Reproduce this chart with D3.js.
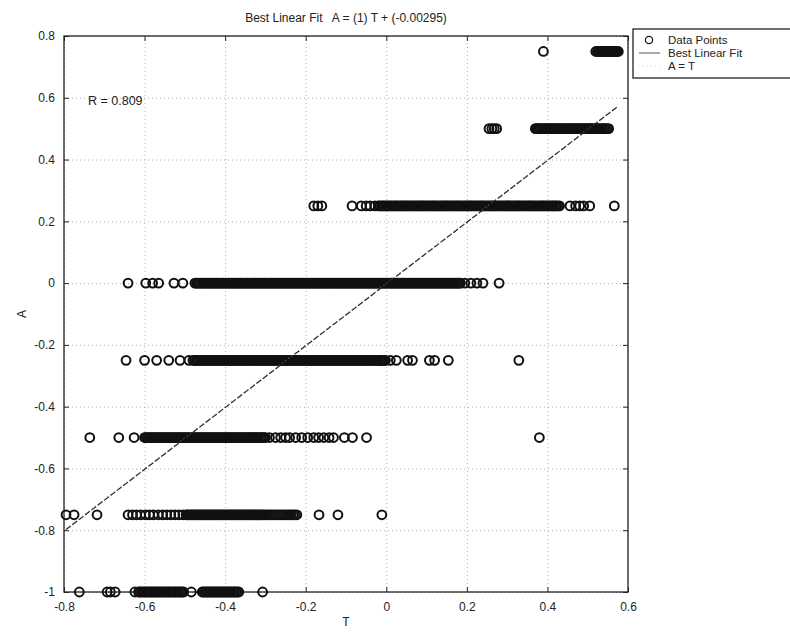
<!DOCTYPE html>
<html>
<head>
<meta charset="utf-8">
<script src="https://cdn.jsdelivr.net/npm/d3@7"></script>
<style>
  body { margin: 0; background: #fff; }
  text { font-family: "Liberation Sans", Arial, sans-serif; fill: #222; white-space: pre; }
</style>
</head>
<body>
<div></div>
<script>
// rows of A (target levels) and the T values found on each row
var aLevels = [0.75, 0.5, 0.25, 0, -0.25, -0.5, -0.75, -1];

var tRow075 = [0.39, 0.52, 0.527, 0.534, 0.54, 0.546, 0.552, 0.558, 0.564, 0.57, 0.576,
    0.524, 0.531, 0.537, 0.543, 0.549, 0.555, 0.561, 0.567, 0.573];

var tRow050 = [0.255, 0.262, 0.268, 0.274,
    0.37, 0.376, 0.382, 0.39, 0.397, 0.404, 0.41, 0.418, 0.425, 0.432, 0.44, 0.447, 0.455,
    0.462, 0.47, 0.477, 0.485, 0.492, 0.5, 0.507, 0.514, 0.522, 0.53, 0.537, 0.544, 0.552,
    0.373, 0.379, 0.386, 0.394, 0.401, 0.407, 0.414, 0.421, 0.428, 0.436, 0.444, 0.451, 0.459,
    0.466, 0.474, 0.481, 0.489, 0.496, 0.504, 0.511, 0.518, 0.526, 0.534, 0.541, 0.548];

var tRow025 = [-0.18, -0.17, -0.16, -0.085, -0.062, -0.05, -0.04, -0.028,
    -0.02, -0.012, -0.005, 0.003, 0.01, 0.018, 0.025, 0.033, 0.04, 0.047, 0.055, 0.062, 0.07,
    0.078, 0.085, 0.092, 0.1, 0.108, 0.115, 0.122, 0.13, 0.138, 0.145, 0.152, 0.16, 0.168,
    0.175, 0.182, 0.19, 0.198, 0.205, 0.212, 0.22, 0.228, 0.235, 0.242, 0.25, 0.258, 0.265,
    0.272, 0.28, 0.288, 0.295, 0.302, 0.31, 0.318, 0.325, 0.332, 0.34, 0.348, 0.355, 0.362,
    0.37, 0.378, 0.385, 0.392, 0.4, 0.408, 0.415, 0.422, 0.43,
    -0.016, -0.008, -0.001, 0.007, 0.014, 0.022, 0.029, 0.037, 0.044, 0.051, 0.059, 0.066,
    0.074, 0.082, 0.089, 0.096, 0.104, 0.112, 0.119, 0.126, 0.134, 0.142, 0.149, 0.156, 0.164,
    0.172, 0.179, 0.186, 0.194, 0.202, 0.209, 0.216, 0.224, 0.232, 0.239, 0.246, 0.254, 0.262,
    0.269, 0.276, 0.284, 0.292, 0.299, 0.306, 0.314, 0.322, 0.329, 0.336, 0.344, 0.352, 0.359,
    0.366, 0.374, 0.382, 0.389, 0.396, 0.404, 0.412, 0.419, 0.426,
    0.456, 0.47, 0.48, 0.49, 0.505, 0.566];

var tRow000 = [-0.641, -0.597, -0.58, -0.565, -0.527, -0.505,
    -0.475, -0.468, -0.46, -0.452, -0.445, -0.437, -0.43, -0.422, -0.415, -0.407, -0.4, -0.392,
    -0.385, -0.377, -0.37, -0.362, -0.355, -0.347, -0.34, -0.332, -0.325, -0.317, -0.31, -0.302,
    -0.295, -0.287, -0.28, -0.272, -0.265, -0.257, -0.25, -0.242, -0.235, -0.227, -0.22, -0.212,
    -0.205, -0.197, -0.19, -0.182, -0.175, -0.167, -0.16, -0.152, -0.145, -0.137, -0.13, -0.122,
    -0.115, -0.107, -0.1, -0.092, -0.085, -0.077, -0.07, -0.062, -0.055, -0.047, -0.04, -0.032,
    -0.025, -0.017, -0.01, -0.002, 0.005, 0.013, 0.02, 0.028, 0.035, 0.043, 0.05, 0.058, 0.065,
    0.073, 0.08, 0.088, 0.095, 0.103, 0.11, 0.118, 0.125, 0.133, 0.14, 0.148, 0.155, 0.163,
    0.17, 0.178, 0.184,
    -0.471, -0.464, -0.456, -0.449, -0.441, -0.434, -0.426, -0.419, -0.411, -0.404, -0.396,
    -0.389, -0.381, -0.374, -0.366, -0.359, -0.351, -0.344, -0.336, -0.329, -0.321, -0.314,
    -0.306, -0.299, -0.291, -0.284, -0.276, -0.269, -0.261, -0.254, -0.246, -0.239, -0.231,
    -0.224, -0.216, -0.209, -0.201, -0.194, -0.186, -0.179, -0.171, -0.164, -0.156, -0.149,
    -0.141, -0.134, -0.126, -0.119, -0.111, -0.104, -0.096, -0.089, -0.081, -0.074, -0.066,
    -0.059, -0.051, -0.044, -0.036, -0.029, -0.021, -0.014, -0.006, 0.001, 0.009, 0.016, 0.024,
    0.031, 0.039, 0.046, 0.054, 0.061, 0.069, 0.076, 0.084, 0.091, 0.099, 0.106, 0.114, 0.121,
    0.129, 0.136, 0.144, 0.151, 0.159, 0.166, 0.174, 0.181,
    0.195, 0.21, 0.225, 0.24, 0.28];

var tRowM025 = [-0.646, -0.6, -0.57, -0.54, -0.512, -0.49,
    -0.48, -0.472, -0.465, -0.457, -0.45, -0.442, -0.435, -0.427, -0.42, -0.412, -0.405, -0.397,
    -0.39, -0.382, -0.375, -0.367, -0.36, -0.352, -0.345, -0.337, -0.33, -0.322, -0.315, -0.307,
    -0.3, -0.292, -0.285, -0.277, -0.27, -0.262, -0.255, -0.247, -0.24, -0.232, -0.225, -0.217,
    -0.21, -0.202, -0.195, -0.187, -0.18, -0.172, -0.165, -0.157, -0.15, -0.142, -0.135, -0.127,
    -0.12, -0.112, -0.105, -0.097, -0.09, -0.082, -0.075, -0.067, -0.06, -0.052, -0.045, -0.037,
    -0.03, -0.022, -0.015, -0.008, -0.002,
    -0.476, -0.469, -0.461, -0.454, -0.446, -0.439, -0.431, -0.424, -0.416, -0.409, -0.401,
    -0.394, -0.386, -0.379, -0.371, -0.364, -0.356, -0.349, -0.341, -0.334, -0.326, -0.319,
    -0.311, -0.304, -0.296, -0.289, -0.281, -0.274, -0.266, -0.259, -0.251, -0.244, -0.236,
    -0.229, -0.221, -0.214, -0.206, -0.199, -0.191, -0.184, -0.176, -0.169, -0.161, -0.154,
    -0.146, -0.139, -0.131, -0.124, -0.116, -0.109, -0.101, -0.094, -0.086, -0.079, -0.071,
    -0.064, -0.056, -0.049, -0.041, -0.034, -0.026, -0.019, -0.012, -0.005,
    0.01, 0.025, 0.053, 0.065, 0.107, 0.12, 0.154, 0.329];

var tRowM050 = [-0.736, -0.664, -0.626,
    -0.6, -0.593, -0.586, -0.579, -0.572, -0.565, -0.558, -0.551, -0.544, -0.537, -0.53, -0.523,
    -0.516, -0.509, -0.502, -0.495, -0.488, -0.481, -0.474, -0.467, -0.46, -0.453, -0.446, -0.439,
    -0.432, -0.425, -0.418, -0.411, -0.404, -0.397, -0.39, -0.383, -0.376, -0.369, -0.362, -0.355,
    -0.348, -0.341, -0.334, -0.327, -0.32, -0.313, -0.306, -0.3,
    -0.597, -0.59, -0.583, -0.576, -0.569, -0.562, -0.555, -0.548, -0.541, -0.534, -0.527, -0.52,
    -0.513, -0.506, -0.499, -0.492, -0.485, -0.478, -0.471, -0.464, -0.457, -0.45, -0.443, -0.436,
    -0.429, -0.422, -0.415, -0.408, -0.401, -0.394, -0.387, -0.38, -0.373, -0.366, -0.359, -0.352,
    -0.345, -0.338, -0.331, -0.324, -0.317, -0.31, -0.303,
    -0.29, -0.275, -0.262, -0.25, -0.24, -0.225, -0.21, -0.195, -0.18, -0.168, -0.155, -0.142,
    -0.131, -0.104, -0.084, -0.049, 0.38];

var tRowM075 = [-0.795, -0.775, -0.718,
    -0.641, -0.63, -0.62, -0.61, -0.598, -0.588, -0.578, -0.566, -0.555, -0.545, -0.535, -0.525,
    -0.515, -0.505, -0.497, -0.49, -0.483, -0.476, -0.469, -0.462, -0.455, -0.448, -0.441, -0.434,
    -0.427, -0.42, -0.413, -0.406, -0.399, -0.392, -0.385, -0.378, -0.371, -0.364, -0.357, -0.35,
    -0.343, -0.336, -0.329, -0.322, -0.315, -0.308, -0.3, -0.29, -0.28, -0.27, -0.26, -0.25,
    -0.24, -0.231, -0.222,
    -0.494, -0.487, -0.48, -0.473, -0.466, -0.459, -0.452, -0.445, -0.438, -0.431, -0.424, -0.417,
    -0.41, -0.403, -0.396, -0.389, -0.382, -0.375, -0.368, -0.361, -0.354, -0.347, -0.34, -0.333,
    -0.326, -0.319, -0.312, -0.304, -0.295, -0.285, -0.275, -0.265, -0.255, -0.245, -0.236, -0.227,
    -0.167, -0.12, -0.011];

var tRowM100 = [-0.762, -0.693, -0.685, -0.673, -0.624,
    -0.615, -0.608, -0.6, -0.593, -0.585, -0.578, -0.57, -0.563, -0.555, -0.548, -0.54, -0.533,
    -0.525, -0.518, -0.51, -0.503,
    -0.612, -0.604, -0.597, -0.589, -0.582, -0.574, -0.567, -0.559, -0.552, -0.544, -0.537,
    -0.529, -0.522, -0.514, -0.507,
    -0.484,
    -0.457, -0.45, -0.443, -0.436, -0.429, -0.422, -0.415, -0.408, -0.401, -0.394, -0.387, -0.38,
    -0.373, -0.366,
    -0.454, -0.447, -0.44, -0.433, -0.426, -0.419, -0.412, -0.405, -0.398, -0.391, -0.384, -0.377,
    -0.37,
    -0.307];

var tRows = [tRow075, tRow050, tRow025, tRow000, tRowM025, tRowM050, tRowM075, tRowM100];

// fit: A = (1) T + (-0.00295)
var fitSlope = 1;
var fitIntercept = -0.00295;
var rValue = 0.809;

var xTicks = [-0.8, -0.6, -0.4, -0.2, 0, 0.2, 0.4, 0.6];
var yTicks = [-1, -0.8, -0.6, -0.4, -0.2, 0, 0.2, 0.4, 0.6, 0.8];
var legendLabels = ['Data Points', 'Best Linear Fit', 'A = T'];

var W = 790, H = 632;
var pLeft = 64, pRight = 628, pTop = 36, pBottom = 592;

var svg = d3.select('div')
    .append('svg')
    .attr('width', W)
    .attr('height', H);

var x = d3.scaleLinear().domain([-0.8, 0.6]).range([pLeft, pRight]);
var y = d3.scaleLinear().domain([-1, 0.8]).range([pBottom, pTop]);

var fmt = function(d) { return String(+d.toFixed(1)); };

// dotted grid
svg.append('g')
    .attr('transform', 'translate(0,' + pBottom + ')')
    .call(d3.axisBottom(x).tickValues(xTicks).tickSize(-(pBottom - pTop)).tickFormat(''))
    .call(g => g.select('.domain').remove())
    .selectAll('line')
    .attr('stroke', '#b0b0b0')
    .attr('stroke-dasharray', '1,3');

svg.append('g')
    .attr('transform', 'translate(' + pLeft + ',0)')
    .call(d3.axisLeft(y).tickValues(yTicks).tickSize(-(pRight - pLeft)).tickFormat(''))
    .call(g => g.select('.domain').remove())
    .selectAll('line')
    .attr('stroke', '#b0b0b0')
    .attr('stroke-dasharray', '1,3');

// box with inward ticks
svg.append('rect')
    .attr('x', pLeft).attr('y', pTop)
    .attr('width', pRight - pLeft).attr('height', pBottom - pTop)
    .attr('fill', 'none').attr('stroke', '#222').attr('stroke-width', 1.3);

var axB = svg.append('g')
    .attr('transform', 'translate(0,' + pBottom + ')')
    .call(d3.axisBottom(x).tickValues(xTicks).tickSize(-5).tickPadding(10).tickFormat(fmt));
var axT = svg.append('g')
    .attr('transform', 'translate(0,' + pTop + ')')
    .call(d3.axisTop(x).tickValues(xTicks).tickSize(-5).tickFormat(''));
var axL = svg.append('g')
    .attr('transform', 'translate(' + pLeft + ',0)')
    .call(d3.axisLeft(y).tickValues(yTicks).tickSize(-5).tickPadding(9).tickFormat(fmt));
var axR = svg.append('g')
    .attr('transform', 'translate(' + pRight + ',0)')
    .call(d3.axisRight(y).tickValues(yTicks).tickSize(-5).tickFormat(''));

[axB, axT, axL, axR].forEach(function(g) {
    g.select('.domain').remove();
    g.selectAll('line').attr('stroke', '#222');
    g.selectAll('text').style('font-size', '12px').attr('fill', '#222');
});

// data points
var points = [];
tRows.forEach(function(row, i) {
    row.forEach(function(t) { points.push({ t: t, a: aLevels[i] }); });
});

svg.append('g')
    .selectAll('circle')
    .data(points)
    .enter()
    .append('circle')
    .attr('cx', d => x(d.t))
    .attr('cy', d => y(d.a))
    .attr('r', 4.4)
    .attr('fill', 'none')
    .attr('stroke', '#111')
    .attr('stroke-width', 2);

// best linear fit line over the data range of T
var tExt = d3.extent(points, d => d.t);
svg.append('line')
    .attr('x1', x(tExt[0])).attr('y1', y(fitSlope * tExt[0] + fitIntercept))
    .attr('x2', x(tExt[1])).attr('y2', y(fitSlope * tExt[1] + fitIntercept))
    .attr('stroke', '#222')
    .attr('stroke-width', 1.2)
    .attr('stroke-dasharray', '6,2');

// A = T, dotted
svg.append('line')
    .attr('x1', x(tExt[0])).attr('y1', y(tExt[0]))
    .attr('x2', x(tExt[1])).attr('y2', y(tExt[1]))
    .attr('stroke', '#888')
    .attr('stroke-width', 0.8)
    .attr('stroke-dasharray', '1,3');

// texts
svg.append('text')
    .attr('x', (pLeft + pRight) / 2).attr('y', 22)
    .attr('text-anchor', 'middle')
    .style('font-size', '12px')
    .text('Best Linear Fit   A = (1) T + (' + fitIntercept + ')');

svg.append('text')
    .attr('x', 88).attr('y', 105)
    .style('font-size', '12.5px')
    .text('R = ' + rValue);

svg.append('text')
    .attr('x', (pLeft + pRight) / 2).attr('y', 626)
    .attr('text-anchor', 'middle')
    .style('font-size', '12px')
    .text('T');

svg.append('text')
    .attr('transform', 'translate(26,' + (pTop + pBottom) / 2 + ') rotate(-90)')
    .attr('text-anchor', 'middle')
    .style('font-size', '12px')
    .text('A');

// legend
var lg = svg.append('g').attr('transform', 'translate(633,29)');
lg.append('rect')
    .attr('x', 0).attr('y', 0).attr('width', 170).attr('height', 49)
    .attr('fill', '#fff').attr('stroke', '#222').attr('stroke-width', 1.3);
lg.append('circle').attr('cx', 16).attr('cy', 11).attr('r', 3.6)
    .attr('fill', 'none').attr('stroke', '#1a1a1a').attr('stroke-width', 1.3);
lg.append('line').attr('x1', 6).attr('x2', 27).attr('y1', 24).attr('y2', 24)
    .attr('stroke', '#555').attr('stroke-width', 1);
lg.append('line').attr('x1', 6).attr('x2', 27).attr('y1', 37).attr('y2', 37)
    .attr('stroke', '#ccc').attr('stroke-width', 0.8).attr('stroke-dasharray', '1,3');
lg.selectAll('text.lab')
    .data(legendLabels)
    .enter()
    .append('text')
    .attr('class', 'lab')
    .attr('x', 35)
    .attr('y', (d, i) => 15 + i * 13)
    .style('font-size', '11.5px')
    .text(d => d);
</script>
</body>
</html>
